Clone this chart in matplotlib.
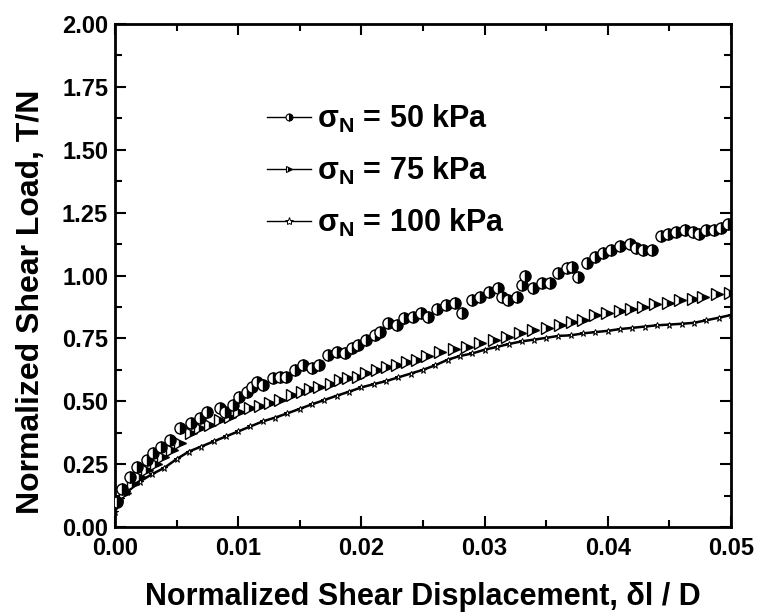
import matplotlib
matplotlib.use("Agg")
import matplotlib.pyplot as plt
from matplotlib.lines import Line2D
from matplotlib.ticker import MultipleLocator

plt.rcParams['font.family'] = ['Liberation Sans', 'DejaVu Sans']
plt.rcParams['font.weight'] = 'bold'
plt.rcParams['mathtext.fontset'] = 'custom'
plt.rcParams['mathtext.rm'] = 'Liberation Sans:bold'
plt.rcParams['mathtext.bf'] = 'Liberation Sans:bold'
plt.rcParams['mathtext.it'] = 'Liberation Sans:bold'

# ---- data ----
x50 = [0.0002, 0.0006, 0.0012, 0.0018, 0.0026, 0.0031, 0.0037, 0.0045, 0.0053, 0.0062,
       0.0069, 0.0075, 0.0085, 0.0089, 0.0096, 0.0101, 0.0107, 0.0111, 0.0115, 0.0120,
       0.0128, 0.0134, 0.0139, 0.0146, 0.0153, 0.0160, 0.0166, 0.0173, 0.0180, 0.0187,
       0.0192, 0.0197, 0.0204, 0.0211, 0.0215, 0.0222, 0.0229, 0.0235, 0.0242, 0.0248,
       0.0254, 0.0261, 0.0269, 0.0276, 0.0282, 0.0290, 0.0296, 0.0304, 0.0311, 0.0314,
       0.0319, 0.0326, 0.0330, 0.0333, 0.0339, 0.0347, 0.0353, 0.0360, 0.0367, 0.0371,
       0.0376, 0.0383, 0.0390, 0.0396, 0.0403, 0.0410, 0.0418, 0.0423, 0.0429, 0.0436,
       0.0443, 0.0449, 0.0455, 0.0463, 0.0469, 0.0474, 0.0480, 0.0486, 0.0492, 0.0498]
y50 = [0.10, 0.15, 0.199, 0.239, 0.266, 0.294, 0.318, 0.346, 0.394, 0.413,
       0.433, 0.457, 0.473, 0.457, 0.485, 0.517, 0.537, 0.557, 0.577, 0.565,
       0.592, 0.596, 0.596, 0.624, 0.644, 0.632, 0.644, 0.684, 0.696, 0.692,
       0.712, 0.724, 0.744, 0.763, 0.775, 0.811, 0.803, 0.831, 0.835, 0.851,
       0.835, 0.868, 0.883, 0.890, 0.851, 0.903, 0.915, 0.934, 0.950, 0.915,
       0.903, 0.915, 0.962, 0.998, 0.950, 0.970, 0.970, 1.010, 1.030, 1.034,
       0.994, 1.050, 1.074, 1.090, 1.100, 1.119, 1.127, 1.111, 1.100, 1.100,
       1.158, 1.166, 1.174, 1.180, 1.174, 1.166, 1.180, 1.180, 1.190, 1.205]

x75 = [0.0002, 0.0008, 0.0015, 0.0020, 0.0026, 0.0033, 0.0039, 0.0046, 0.0053, 0.0062,
       0.0069, 0.0077, 0.0085, 0.0093, 0.0101, 0.0110, 0.0118, 0.0126, 0.0134, 0.0144,
       0.0152, 0.0158, 0.0166, 0.0175, 0.0183, 0.0189, 0.0197, 0.0204, 0.0213, 0.0221,
       0.0229, 0.0237, 0.0245, 0.0253, 0.0264, 0.0275, 0.0286, 0.0296, 0.0308, 0.0318,
       0.0329, 0.0339, 0.0351, 0.0361, 0.0371, 0.0380, 0.0390, 0.0399, 0.0410, 0.0419,
       0.0429, 0.0438, 0.0449, 0.0459, 0.0469, 0.0477, 0.0489, 0.0499]
y75 = [0.107, 0.135, 0.170, 0.200, 0.227, 0.252, 0.278, 0.305, 0.334, 0.374,
       0.394, 0.406, 0.425, 0.437, 0.457, 0.473, 0.480, 0.493, 0.505, 0.525,
       0.537, 0.550, 0.558, 0.570, 0.585, 0.592, 0.598, 0.612, 0.624, 0.636,
       0.644, 0.656, 0.666, 0.680, 0.696, 0.708, 0.716, 0.731, 0.744, 0.756,
       0.771, 0.783, 0.793, 0.805, 0.815, 0.825, 0.843, 0.851, 0.858, 0.866,
       0.875, 0.887, 0.890, 0.903, 0.907, 0.915, 0.926, 0.932]

x100 = [0.0000, 0.0005, 0.0010, 0.0020, 0.0030, 0.0040, 0.0050, 0.0060, 0.0070, 0.0080,
        0.0090, 0.0100, 0.0110, 0.0120, 0.0130, 0.0140, 0.0150, 0.0160, 0.0170, 0.0180,
        0.0190, 0.0200, 0.0210, 0.0220, 0.0230, 0.0240, 0.0250, 0.0260, 0.0270, 0.0280,
        0.0290, 0.0300, 0.0310, 0.0320, 0.0330, 0.0340, 0.0350, 0.0360, 0.0370, 0.0380,
        0.0390, 0.0400, 0.0410, 0.0420, 0.0430, 0.0440, 0.0450, 0.0460, 0.0470, 0.0480,
        0.0490, 0.0500]
y100 = [0.060, 0.110, 0.140, 0.180, 0.210, 0.235, 0.270, 0.300, 0.320, 0.340,
        0.360, 0.380, 0.400, 0.420, 0.435, 0.452, 0.470, 0.488, 0.505, 0.522,
        0.538, 0.555, 0.568, 0.580, 0.595, 0.610, 0.625, 0.643, 0.665, 0.680,
        0.690, 0.705, 0.716, 0.728, 0.738, 0.745, 0.752, 0.760, 0.762, 0.770,
        0.775, 0.780, 0.787, 0.792, 0.797, 0.802, 0.805, 0.808, 0.812, 0.822,
        0.832, 0.843]

labels = ['σ$_{\\mathrm{N}}$ = 50 kPa', 'σ$_{\\mathrm{N}}$ = 75 kPa', 'σ$_{\\mathrm{N}}$ = 100 kPa']
xticks = [0.00, 0.01, 0.02, 0.03, 0.04, 0.05]
yticks = [0.00, 0.25, 0.50, 0.75, 1.00, 1.25, 1.50, 1.75, 2.00]

fig = plt.figure(figsize=(7.63, 6.16), dpi=100)
ax = fig.add_axes([0.1507, 0.1445, 0.8073, 0.8165])

ax.plot(x100, y100, '-', color='black', lw=1.8, marker='*', ms=5,
        mfc='white', mec='black', mew=0.7, zorder=2)
ax.plot(x75, y75, linestyle='none', marker='>', ms=8, fillstyle='right',
        mfc='black', mfcalt='white', mec='black', mew=1.0, zorder=3)
ax.plot(x50, y50, linestyle='none', marker='o', ms=8, fillstyle='right',
        mfc='black', mfcalt='white', mec='black', mew=1.0, zorder=4)

ax.set_xlim(0, 0.05)
ax.set_ylim(0, 2.0)
ax.set_xticks(xticks)
ax.set_yticks(yticks)
ax.set_xticklabels([f'{v:.2f}' for v in xticks])
ax.set_yticklabels([f'{v:.2f}' for v in yticks])
ax.xaxis.set_minor_locator(MultipleLocator(0.005))
ax.yaxis.set_minor_locator(MultipleLocator(0.125))
ax.tick_params(which='both', direction='in', top=True, right=True, width=1.5,
               labelsize=17)
ax.tick_params(axis='x', pad=7)
ax.tick_params(axis='y', pad=5)
ax.tick_params(which='major', length=8)
ax.tick_params(which='minor', length=5)
for lab in ax.get_xticklabels() + ax.get_yticklabels():
    lab.set_fontweight('bold')
for s in ax.spines.values():
    s.set_linewidth(2)

ax.set_xlabel('Normalized Shear Displacement, δl / D', fontsize=22,
              fontweight='bold', labelpad=16)
ax.set_ylabel('Normalized Shear Load, T/N', fontsize=23, fontweight='bold')
ax.yaxis.set_label_coords(-0.112, 0.447)

handles = [
    Line2D([], [], color='black', lw=1, marker='o', ms=5, fillstyle='right',
           mfc='black', mfcalt='white', mec='black', mew=0.8),
    Line2D([], [], color='black', lw=1, marker='>', ms=5, fillstyle='right',
           mfc='black', mfcalt='white', mec='black', mew=0.8),
    Line2D([], [], color='black', lw=1, marker='*', ms=6,
           mfc='white', mec='black', mew=0.7),
]
leg = ax.legend(handles, labels, loc='upper left', bbox_to_anchor=(0.222, 0.874),
                frameon=False, fontsize=22, handlelength=1.45, handletextpad=0.2,
                labelspacing=0.65, borderpad=0)
for t in leg.get_texts():
    t.set_fontweight('bold')

fig.savefig('out.png', dpi=100)
